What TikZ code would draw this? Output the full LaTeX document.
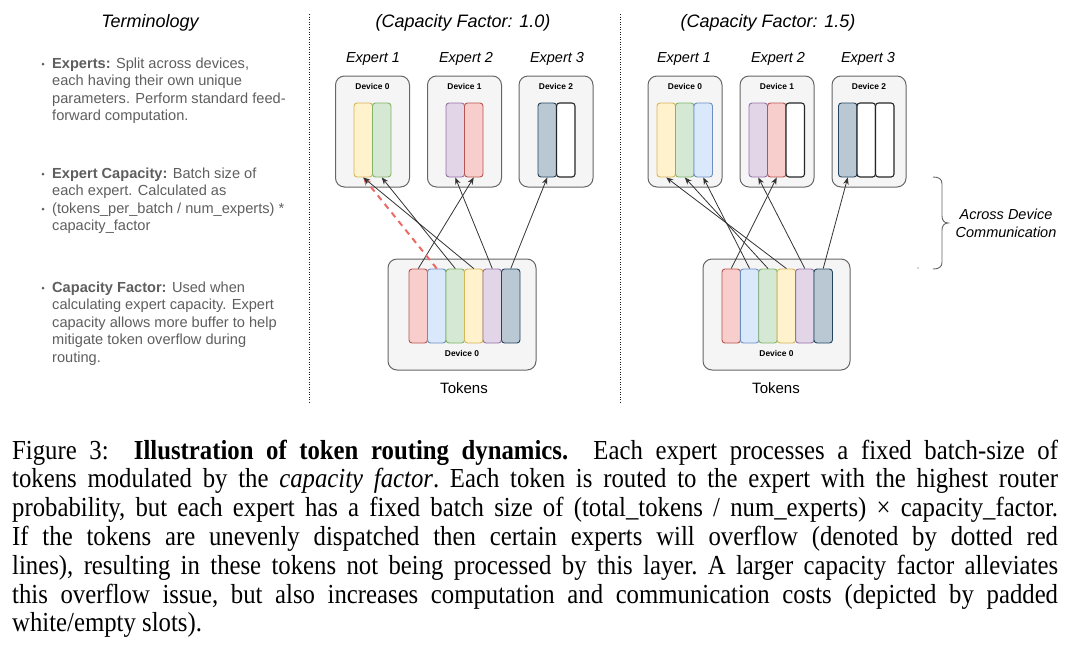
\documentclass[tikz,border=0pt]{standalone}
\usepackage{fontspec}
\setmainfont{Liberation Serif}
\setsansfont{Liberation Sans}
\usepackage{graphicx}
\usetikzlibrary{arrows.meta,decorations.pathreplacing}
\definecolor{yelF}{HTML}{FFF2CC}\definecolor{yelD}{HTML}{D6B656}
\definecolor{grnF}{HTML}{D5E8D4}\definecolor{grnD}{HTML}{82B366}
\definecolor{bluF}{HTML}{DAE8FC}\definecolor{bluD}{HTML}{6C8EBF}
\definecolor{redF}{HTML}{F8CECC}\definecolor{redD}{HTML}{B85450}
\definecolor{purF}{HTML}{E1D5E7}\definecolor{purD}{HTML}{9673A6}
\definecolor{drkF}{HTML}{BAC8D3}\definecolor{drkD}{HTML}{23445D}
\definecolor{devF}{HTML}{F5F5F5}\definecolor{devD}{HTML}{666666}
\definecolor{termG}{HTML}{5E5E5E}
\definecolor{arrC}{HTML}{333333}
\definecolor{ovfC}{HTML}{EA6B66}
\tikzset{
  slot/.style={draw, rounded corners=3pt, minimum width=18.5pt, minimum height=74pt, inner sep=0pt, line width=0.9pt},
  yel/.style={slot, fill=yelF, draw=yelD},
  grn/.style={slot, fill=grnF, draw=grnD},
  blu/.style={slot, fill=bluF, draw=bluD},
  rdd/.style={slot, fill=redF, draw=redD},
  pur/.style={slot, fill=purF, draw=purD},
  drk/.style={slot, fill=drkF, draw=drkD},
  emp/.style={slot, fill=white, draw=black!85, line width=1.1pt},
  dev/.style={draw=devD, fill=devF, rounded corners=9pt, line width=1pt, minimum width=74pt, minimum height=111pt, inner sep=0pt},
  tokbox/.style={dev, minimum width=148pt},
  devlbl/.style={font=\sffamily\bfseries\fontsize{8.4}{10}\selectfont, inner sep=0pt, anchor=base},
  explbl/.style={font=\sffamily\itshape\fontsize{14.5}{17}\selectfont, inner sep=0pt, anchor=base},
  head/.style={font=\sffamily\itshape\fontsize{18}{21}\selectfont, inner sep=0pt, anchor=base},
  term/.style={font=\sffamily\fontsize{14.6}{17.6}\selectfont, text=termG, inner sep=0pt, anchor=base west},
  bul/.style={circle, fill=termG, inner sep=0pt, minimum size=3pt},
  route/.style={draw=arrC, line width=0.8pt, -{Stealth[length=7pt,width=5.5pt]}},
  overflow/.style={draw=ovfC, line width=2pt, dash pattern=on 6pt off 5pt, -{Stealth[length=8pt,width=7pt]}},
  sep/.style={draw=black!90, line width=1pt, dash pattern=on 1pt off 1.5pt},
}
\begin{document}
\begin{tikzpicture}[x=1pt,y=-1pt]
\useasboundingbox (0,0) rectangle (1070,646);

% ---------------- Terminology ----------------
\node[head, text=black] (termhead) at (150,27) {Terminology};
\node[bul] (b1) at (43,64) {};
\node[term] (t1a) at (52,68) {\textbf{Experts:} Split across devices,};
\node[term] (t1b) at (52,85.6) {each having their own unique};
\node[term] (t1c) at (52,103.2) {parameters. Perform standard feed-};
\node[term] (t1d) at (52,120.8) {forward computation.};
\node[bul] (b2) at (43,174) {};
\node[term] (t2a) at (52,178) {\textbf{Expert Capacity:} Batch size of};
\node[term] (t2b) at (52,195.6) {each expert. Calculated as};
\node[bul] (b2x) at (43,209.2) {};
\node[term] (t2c) at (52,213.2) {(tokens\_per\_batch / num\_experts) *};
\node[term] (t2d) at (52,230.8) {capacity\_factor};
\node[bul] (b3) at (43,288) {};
\node[term] (t3a) at (52,292) {\textbf{Capacity Factor:} Used when};
\node[term] (t3b) at (52,309.6) {calculating expert capacity. Expert};
\node[term] (t3c) at (52,327.2) {capacity allows more buffer to help};
\node[term] (t3d) at (52,344.8) {mitigate token overflow during};
\node[term] (t3e) at (52,362.4) {routing.};

% separators
\coordinate (s1t) at (309.5,14); \coordinate (s1b) at (309.5,402);
\coordinate (s2t) at (620.5,14); \coordinate (s2b) at (620.5,402);
\draw[sep] (s1t) -- (s1b);
\draw[sep] (s2t) -- (s2b);

% ---------------- Capacity factor 1.0 ----------------
\node[head] (hL) at (463,27) {(Capacity Factor: 1.0)};
\node[explbl] (eL1) at (373,62) {Expert 1};
\node[explbl] (eL2) at (466,62) {Expert 2};
\node[explbl] (eL3) at (557,62) {Expert 3};
\node[dev] (DL0) at (372.5,131.5) {};
\node[dev] (DL1) at (464.5,131.5) {};
\node[dev] (DL2) at (556,131.5) {};
\node[devlbl] (dL0) at (372.5,89.5) {Device 0};
\node[devlbl] (dL1) at (464.5,89.5) {Device 1};
\node[devlbl] (dL2) at (556,89.5) {Device 2};
\node[yel] (L0a) at (363.25,140) {};
\node[grn] (L0b) at (381.75,140) {};
\node[pur] (L1a) at (455.25,140) {};
\node[rdd] (L1b) at (473.75,140) {};
\node[drk] (L2a) at (547.25,140) {};
\node[emp] (L2b) at (565.75,140) {};

\node[tokbox] (TL) at (462,314.5) {};
\node[devlbl] (tL) at (462,356) {Device 0};
\node[rdd] (LT1) at (418.25,306) {};
\node[blu] (LT2) at (436.75,306) {};
\node[grn] (LT3) at (455.25,306) {};
\node[yel] (LT4) at (473.75,306) {};
\node[pur] (LT5) at (492.25,306) {};
\node[drk] (LT6) at (510.75,306) {};
\node[explbl, font=\sffamily\fontsize{15}{17}\selectfont] (tokL) at (464,393) {Tokens};

\draw[route] (LT1.north) -- (L1b.south);
\draw[overflow] (LT2.north) -- (L0a.south);
\draw[route] (LT3.north) -- (L0b.south);
\draw[route] (LT4.north) -- (L0a.south);
\draw[route] (LT5.north) -- (L1a.south);
\draw[route] (LT6.north) -- (L2a.south);

% ---------------- Capacity factor 1.5 ----------------
\node[head] (hR) at (768,27) {(Capacity Factor: 1.5)};
\node[explbl] (eR1) at (684,62) {Expert 1};
\node[explbl] (eR2) at (778,62) {Expert 2};
\node[explbl] (eR3) at (868,62) {Expert 3};
\node[dev] (DR0) at (685,131.5) {};
\node[dev] (DR1) at (777,131.5) {};
\node[dev] (DR2) at (869,131.5) {};
\node[devlbl] (dR0) at (685,89.5) {Device 0};
\node[devlbl] (dR1) at (777,89.5) {Device 1};
\node[devlbl] (dR2) at (869,89.5) {Device 2};
\node[yel] (R0a) at (666.25,140) {};
\node[grn] (R0b) at (684.75,140) {};
\node[blu] (R0c) at (703.25,140) {};
\node[pur] (R1a) at (758.25,140) {};
\node[rdd] (R1b) at (776.75,140) {};
\node[emp] (R1c) at (795.25,140) {};
\node[drk] (R2a) at (847.75,140) {};
\node[emp] (R2b) at (866.25,140) {};
\node[emp] (R2c) at (884.75,140) {};

\node[tokbox, minimum width=147pt] (TR) at (776.5,314.5) {};
\node[devlbl] (tR) at (776.5,356) {Device 0};
\node[rdd] (RT1) at (731.2,306) {};
\node[blu] (RT2) at (749.6,306) {};
\node[grn] (RT3) at (768,306) {};
\node[yel] (RT4) at (786.4,306) {};
\node[pur] (RT5) at (804.8,306) {};
\node[drk] (RT6) at (823.2,306) {};
\node[explbl, font=\sffamily\fontsize{15}{17}\selectfont] (tokR) at (776,393) {Tokens};

\draw[route] (RT1.north) -- (R1b.south);
\draw[route] (RT2.north) -- (R0c.south);
\draw[route] (RT3.north) -- (R0b.south);
\draw[route] (RT4.north) -- (R0a.south);
\draw[route] (RT5.north) -- (R1a.south);
\draw[route] (RT6.north) -- (R2a.south);

% brace
\draw[draw=devD, line width=0.9pt] (933,177) .. controls (939,177) and (942,179) .. (942,184) -- (942,216) .. controls (942,220) and (944,223) .. (948,223)
  .. controls (944,223) and (942,226) .. (942,230) -- (942,262) .. controls (942,267) and (939,269) .. (933,269);
\node[explbl] (acr1) at (1006,219) {Across Device};
\node[explbl] (acr2) at (1006,237) {Communication};
\node[circle, fill=black!70, inner sep=0pt, minimum size=1.4pt] (dot) at (918,268) {};

% ---------------- Caption ----------------
\node[anchor=base west, inner sep=0pt] (cap) at (12,459) {\scalebox{0.9}[1]{\parbox[t]{1162pt}{\fontsize{27.5}{28.8}\selectfont\frenchspacing
Figure 3:\ \ \textbf{Illustration of token routing dynamics.}\ \ Each expert processes a fixed batch-size of\linebreak
tokens modulated by the \textit{capacity factor}. Each token is routed to the expert with the highest router\linebreak
probability, but each expert has a fixed batch size of (total\_tokens / num\_experts) × capacity\_factor.\linebreak
If the tokens are unevenly dispatched then certain experts will overflow (denoted by dotted red\linebreak
lines), resulting in these tokens not being processed by this layer. A larger capacity factor alleviates\linebreak
this overflow issue, but also increases computation and communication costs (depicted by padded\linebreak
white/empty slots).}}};
\end{tikzpicture}
\end{document}
